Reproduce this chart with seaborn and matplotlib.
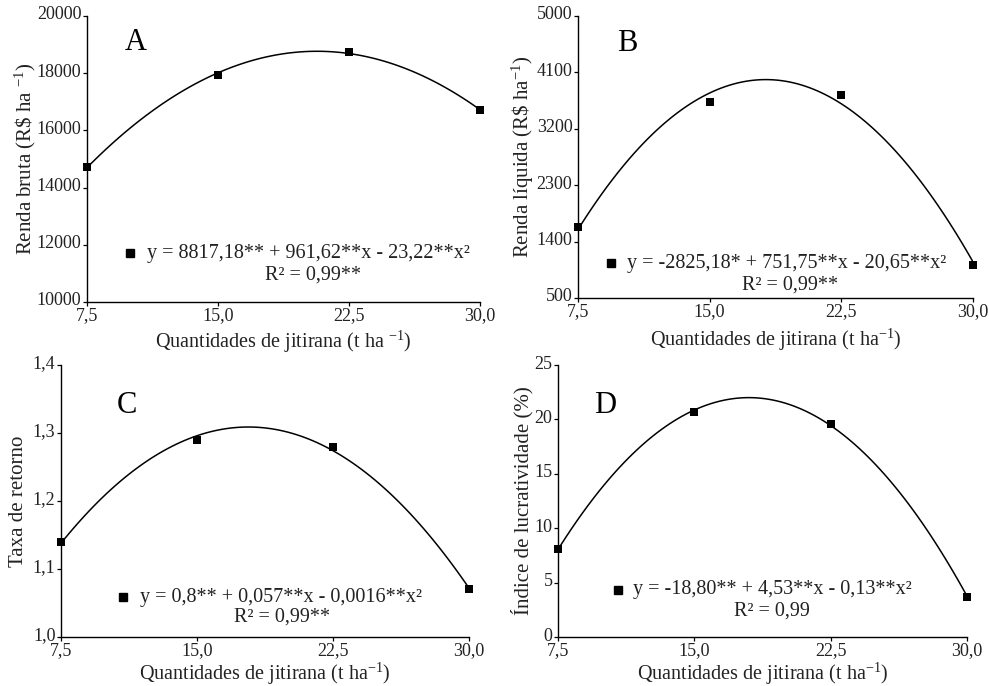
import numpy as np
import pandas as pd
import matplotlib
matplotlib.use("Agg")
import matplotlib.pyplot as plt
import matplotlib.transforms as mtransforms
import seaborn as sns

# data
doses = [7.5, 15.0, 22.5, 30.0]
renda_bruta = [14720, 17950, 18750, 16700]
renda_liquida = [1640, 3630, 3740, 1030]
taxa_retorno = [1.14, 1.29, 1.28, 1.07]
ind_lucrat = [8.1, 20.7, 19.6, 3.7]

xticks = [7.5, 15.0, 22.5, 30.0]
xticklabels = ["7,5", "15,0", "22,5", "30,0"]

yticks_a = [10000, 12000, 14000, 16000, 18000, 20000]
yticks_b = [500, 1400, 2300, 3200, 4100, 5000]
yticks_c = [1.0, 1.1, 1.2, 1.3, 1.4]
yticklabels_c = ["1,0", "1,1", "1,2", "1,3", "1,4"]
yticks_d = [0, 5, 10, 15, 20, 25]

eq_a = "y = 8817,18** + 961,62**x - 23,22**x²"
eq_b = "y = -2825,18* + 751,75**x - 20,65**x²"
eq_c = "y = 0,8** + 0,057**x - 0,0016**x²"
eq_d = "y = -18,80** + 4,53**x - 0,13**x²"
r2_a = "R² = 0,99**"
r2_b = "R² = 0,99**"
r2_c = "R² = 0,99**"
r2_d = "R² = 0,99"

sns.set_style("ticks")
plt.rcParams['font.family'] = ['Liberation Serif', 'DejaVu Serif']
plt.rcParams['mathtext.fontset'] = 'custom'
plt.rcParams['mathtext.rm'] = 'Liberation Serif'
plt.rcParams['mathtext.it'] = 'Liberation Serif:italic'
plt.rcParams['mathtext.default'] = 'rm'

fig = plt.figure(figsize=(9.89, 6.86), dpi=100)

panels = [
    dict(rect=[0.088, 0.5598, 0.3974, 0.4169], y=renda_bruta, letter="A",
         ylabel=r"Renda bruta (R\$ ha $^{-1}$)", xlabel=r"Quantidades de jitirana (t ha $^{-1}$)",
         yticks=yticks_a, ytl=[str(v) for v in yticks_a], eq=eq_a, r2=r2_a,
         let=(0.125, 0.909), mk=(0.109, 0.171), eqx=0.153, r2p=(0.575, 0.094),
         ylc=-0.158, xlc=-0.138),
    dict(rect=[0.5844, 0.5656, 0.3994, 0.4111], y=renda_liquida, letter="B",
         ylabel=r"Renda líquida (R\$ ha$^{-1}$)", xlabel=r"Quantidades de jitirana (t ha$^{-1}$)",
         yticks=yticks_b, ytl=[str(v) for v in yticks_b], eq=eq_b, r2=r2_b,
         let=(0.124, 0.904), mk=(0.084, 0.124), eqx=0.124, r2p=(0.537, 0.046),
         ylc=-0.139, xlc=-0.149),
    dict(rect=[0.0617, 0.0714, 0.4125, 0.3965], y=taxa_retorno, letter="C",
         ylabel="Taxa de retorno", xlabel=r"Quantidades de jitirana (t ha$^{-1}$)",
         yticks=yticks_c, ytl=yticklabels_c, eq=eq_c, r2=r2_c,
         let=(0.162, 0.853), mk=(0.152, 0.147), eqx=0.194, r2p=(0.542, 0.074),
         ylc=-0.105, xlc=-0.134),
    dict(rect=[0.5642, 0.0714, 0.4136, 0.3965], y=ind_lucrat, letter="D",
         ylabel="Índice de lucratividade (%)", xlabel=r"Quantidades de jitirana (t ha$^{-1}$)",
         yticks=yticks_d, ytl=[str(v) for v in yticks_d], eq=eq_d, r2=r2_d,
         let=(0.115, 0.853), mk=(0.147, 0.173), eqx=0.183, r2p=(0.523, 0.096),
         ylc=-0.088, xlc=-0.134),
]

lift = mtransforms.ScaledTranslation(0, 3 / 100, fig.dpi_scale_trans)

for p in panels:
    ax = fig.add_axes(p["rect"])
    df = pd.DataFrame({"x": doses, "y": p["y"]})
    sns.regplot(data=df, x="x", y="y", order=2, ci=None, ax=ax, marker="s",
                scatter_kws=dict(s=36, color="black", alpha=1, clip_on=False, zorder=3,
                                 linewidths=0),
                line_kws=dict(color="black", lw=1.1))
    ax.set_xlim(7.5, 30.0)
    ax.set_ylim(p["yticks"][0], p["yticks"][-1])
    ax.set_xticks(xticks)
    ax.set_xticklabels(xticklabels)
    ax.set_yticks(p["yticks"])
    ax.set_yticklabels(p["ytl"])
    ax.tick_params(axis="both", labelsize=13, length=3, width=0.9, color="black",
                   labelcolor="#222222")
    ax.tick_params(axis="y", pad=1)
    ax.tick_params(axis="x", pad=0.5)
    for lab in ax.get_yticklabels():
        lab.set_transform(lab.get_transform() + lift)
    sns.despine(ax=ax)
    for s in ["left", "bottom"]:
        ax.spines[s].set_color("black")
        ax.spines[s].set_linewidth(1.0)
    ax.set_xlabel(p["xlabel"], fontsize=14.5, color="#222222")
    ax.set_ylabel(p["ylabel"], fontsize=15, color="#222222")
    ax.xaxis.set_label_coords(0.5, p["xlc"])
    ax.xaxis.label.set_va("center")
    ax.yaxis.set_label_coords(p["ylc"], 0.5)
    ax.yaxis.label.set_va("center")
    ax.text(p["let"][0], p["let"][1], p["letter"], transform=ax.transAxes,
            fontsize=22, ha="center", va="center", color="black")
    ax.plot([p["mk"][0]], [p["mk"][1]], marker="s", ms=5.5, color="black",
            transform=ax.transAxes, clip_on=False)
    ax.text(p["eqx"], p["mk"][1], p["eq"], transform=ax.transAxes,
            fontsize=14.5, ha="left", va="center", color="#222222")
    ax.text(p["r2p"][0], p["r2p"][1], p["r2"], transform=ax.transAxes,
            fontsize=14.5, ha="center", va="center", color="#222222")

fig.savefig("out.png", dpi=100)
